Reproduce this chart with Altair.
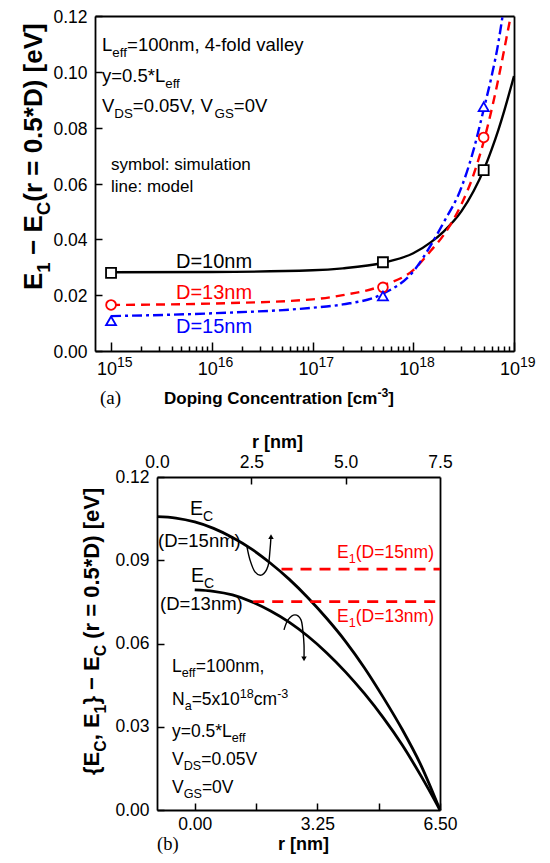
import altair as alt
import pandas as pd

# ---------------- overall geometry ----------------
PAD = 6
ORIG = 8 + PAD                 # page position of the drawing origin
W, H = 550 - 16 - 2 * PAD, 863 - 16 - 2 * PAD
SANS = "Liberation Sans"
SERIF = "Liberation Serif"
RED = "#ff0000"
BLUE = "#0000ff"

# ---------------- panel (a): data ----------------
A10_X = [1e15, 1e16, 1e17, 2e17, 5e17, 1e18, 1.5e18, 2e18, 3e18, 4e18, 5e18, 6e18, 7e18, 8e18, 1e19]
A10_Y = [0.0282, 0.0283, 0.0289, 0.0296, 0.0316, 0.0350, 0.0390, 0.0428, 0.0500, 0.0575, 0.0648, 0.0722, 0.0792, 0.0860, 0.0985]
A13_X = [1e15, 1e16, 1e17, 2e17, 5e17, 1e18, 1.5e18, 2e18, 3e18, 4e18, 5e18, 6e18, 7e18, 8e18, 9e18, 9.3e18]
A13_Y = [0.0165, 0.0170, 0.0185, 0.0200, 0.0235, 0.0290, 0.0360, 0.0415, 0.0525, 0.0635, 0.0750, 0.0865, 0.0975, 0.1080, 0.1175, 0.1200]
A15_X = [1e15, 1e16, 1e17, 2e17, 5e17, 1e18, 1.5e18, 2e18, 3e18, 4e18, 5e18, 6e18, 7e18, 7.7e18]
A15_Y = [0.0125, 0.0135, 0.0155, 0.0167, 0.0205, 0.0285, 0.0380, 0.0460, 0.0585, 0.0725, 0.0865, 0.0985, 0.1105, 0.1200]

SIM_X = [1e15, 5e17, 5e18]
SIM10 = [0.0280, 0.0318, 0.0648]
SIM13 = [0.0165, 0.0228, 0.0765]
SIM15 = [0.0108, 0.0197, 0.0875]

A_MAJOR = [1e15, 1e16, 1e17, 1e18, 1e19]
A_EXP = ["15", "16", "17", "18", "19"]
A_MINOR = [m * 10.0 ** e for e in range(15, 19) for m in range(2, 10)]
A_YTICKS = [0.0, 0.02, 0.04, 0.06, 0.08, 0.10, 0.12]

# ---------------- panel (b): data ----------------
B15_R = [-1.0, -0.5, 0.0, 0.5, 1.0, 1.5, 2.0, 2.5, 3.0, 3.5, 4.0, 4.5, 5.0, 5.5, 6.0, 6.5]
B15_E = [0.1057, 0.1052, 0.1038, 0.1015, 0.0982, 0.0941, 0.0890, 0.0832, 0.0765, 0.0690, 0.0607, 0.0512, 0.0405, 0.0290, 0.0160, 0.0]
B13_R = [0.0, 0.5, 1.0, 1.5, 2.0, 2.5, 3.0, 3.5, 4.0, 4.5, 5.0, 5.5, 6.0, 6.5]
B13_E = [0.0793, 0.0788, 0.0775, 0.0751, 0.0718, 0.0677, 0.0626, 0.0566, 0.0497, 0.0419, 0.0332, 0.0234, 0.0122, 0.0]
E1_15_R = [2.3, 6.5]
E1_15_E = [0.0868, 0.0868]
E1_13_R = [1.55, 6.5]
E1_13_E = [0.0751, 0.0751]

ARR1_R = [1.385, 1.465, 1.597, 1.783, 1.942, 1.995, 2.021]
ARR1_E = [0.0948, 0.0901, 0.0858, 0.0847, 0.0879, 0.0937, 0.0985]
ARR2_R = [2.366, 2.472, 2.657, 2.816, 2.869, 2.896, 2.896]
ARR2_E = [0.0649, 0.0685, 0.0703, 0.0685, 0.0641, 0.0595, 0.0545]

B_XTICKS = [0.0, 1.625, 3.25, 4.875, 6.5]
B_XLABELS = [0.0, 3.25, 6.5]
B_TOPTICKS = [0.0, 2.5, 5.0, 7.5]
B_YTICKS = [0.0, 0.03, 0.06, 0.09, 0.12]


def P(v):
    """page pixel -> drawing pixel"""
    return v - ORIG


# ---------------- scales (pixel ranges inside the drawing) ----------------
XA_DOM, XA_RNG = [6.93e14, 1e19], [P(95), P(514)]
YA_DOM, YA_RNG = [0, 0.12], [P(351), P(16)]
XB_DOM, XB_RNG = [-1.0, 6.5], [P(157), P(440)]
XT_DOM = [0.0, 7.5]
YB_DOM, YB_RNG = [0, 0.12], [P(810), P(477)]


def s_xa():
    return alt.Scale(type="log", domain=XA_DOM, range=XA_RNG, nice=False)


def s_ya():
    return alt.Scale(domain=YA_DOM, range=YA_RNG, nice=False, zero=False)


def s_xb():
    return alt.Scale(domain=XB_DOM, range=XB_RNG, nice=False, zero=False)


def s_xt():
    return alt.Scale(domain=XT_DOM, range=XB_RNG, nice=False, zero=False)


def s_yb():
    return alt.Scale(domain=YB_DOM, range=YB_RNG, nice=False, zero=False)


AX = dict(grid=False, title=None, domainColor="black", tickColor="black",
          labelColor="black", labelFont=SANS, labelFontSize=17.5,
          domainWidth=1.8, tickWidth=1.5, labelFlush=False, labelOverlap=False)


def xaxis(y_page, orient, **kw):
    d = dict(AX)
    d.update(kw)
    y = P(y_page)
    off = (y - H) if orient == "bottom" else -y
    return alt.Axis(orient=orient, offset=off, **d)


def yaxis(x_page, orient, **kw):
    d = dict(AX)
    d.update(kw)
    x = P(x_page)
    off = -x if orient == "left" else (x - W)
    return alt.Axis(orient=orient, offset=off, **d)


def df(xs, ys):
    return pd.DataFrame({"x": xs, "y": ys, "i": list(range(len(xs)))})


layers = []

# ---------------- panel (a) layers ----------------
layers.append(alt.Chart(df(A10_X, A10_Y)).mark_line(color="black", strokeWidth=2.4, interpolate="monotone").encode(
    x=alt.X("x:Q", scale=s_xa(), axis=xaxis(351, "top", values=A_MAJOR, tickSize=9, labels=False)),
    y=alt.Y("y:Q", scale=s_ya(), axis=yaxis(95, "right", values=A_YTICKS, tickSize=7, labels=False))))
layers.append(alt.Chart(df(A13_X, A13_Y)).mark_line(color=RED, strokeWidth=2.4, strokeDash=[9, 6], interpolate="monotone").encode(
    x=alt.X("x:Q", scale=s_xa(), axis=None), y=alt.Y("y:Q", scale=s_ya(), axis=None)))
layers.append(alt.Chart(df(A15_X, A15_Y)).mark_line(color=BLUE, strokeWidth=2.4, strokeDash=[10, 4, 3, 4], interpolate="monotone").encode(
    x=alt.X("x:Q", scale=s_xa(), axis=None), y=alt.Y("y:Q", scale=s_ya(), axis=None)))

layers.append(alt.Chart(df(SIM_X, SIM10)).mark_point(shape="square", size=100, stroke="black", fill="white", fillOpacity=1, strokeWidth=1.8, opacity=1).encode(
    x=alt.X("x:Q", scale=s_xa(), axis=xaxis(351, "top", values=A_MINOR, tickSize=5, labels=False, domain=False)),
    y=alt.Y("y:Q", scale=s_ya(), axis=yaxis(95, "left", values=A_YTICKS, format=".2f", ticks=False, tickSize=0, domain=False, labelPadding=8, labelOffset=1.5))))
layers.append(alt.Chart(df(SIM_X, SIM13)).mark_point(shape="circle", size=95, stroke=RED, fill="white", fillOpacity=1, strokeWidth=1.8, opacity=1).encode(
    x=alt.X("x:Q", scale=s_xa(), axis=None), y=alt.Y("y:Q", scale=s_ya(), axis=None)))
layers.append(alt.Chart(df(SIM_X, SIM15)).mark_point(shape="triangle-up", size=100, stroke=BLUE, fill="white", fillOpacity=1, strokeWidth=1.8, opacity=1).encode(
    x=alt.X("x:Q", scale=s_xa(), axis=None), y=alt.Y("y:Q", scale=s_ya(), axis=None)))
# frame: top and right edges of panel (a)
layers.append(alt.Chart(df(SIM_X, SIM10)).mark_point(opacity=0).encode(
    x=alt.X("x:Q", scale=s_xa(), axis=xaxis(16, "bottom", ticks=False, tickSize=0, labels=False)),
    y=alt.Y("y:Q", scale=s_ya(), axis=yaxis(514, "left", ticks=False, tickSize=0, labels=False))))
# decade tick labels 10^n
tl = pd.DataFrame({"x": A_MAJOR, "b": ["10"] * len(A_MAJOR), "e": A_EXP})
layers.append(alt.Chart(tl).mark_text(align="right", baseline="alphabetic", dx=6, font=SANS, fontSize=18, color="black").encode(
    x=alt.X("x:Q", scale=s_xa(), axis=None), y=alt.value(P(375)), text="b:N"))
layers.append(alt.Chart(tl).mark_text(align="left", baseline="alphabetic", dx=6, font=SANS, fontSize=14, color="black").encode(
    x=alt.X("x:Q", scale=s_xa(), axis=None), y=alt.value(P(367)), text="e:N"))

# ---------------- panel (b) layers ----------------
layers.append(alt.Chart(df(B15_R, B15_E)).mark_line(color="black", strokeWidth=2.8, interpolate="monotone").encode(
    x=alt.X("x:Q", scale=s_xb(), axis=xaxis(810, "top", values=B_XTICKS, tickSize=7, labels=False)),
    y=alt.Y("y:Q", scale=s_yb(), axis=yaxis(157, "right", values=B_YTICKS, tickSize=7, labels=False))))
layers.append(alt.Chart(df(B13_R, B13_E)).mark_line(color="black", strokeWidth=2.8, interpolate="monotone").encode(
    x=alt.X("x:Q", scale=s_xb(), axis=xaxis(810, "bottom", values=B_XLABELS, format=".2f", ticks=False, tickSize=0, domain=False, labelPadding=5)),
    y=alt.Y("y:Q", scale=s_yb(), axis=yaxis(157, "left", values=B_YTICKS, format=".2f", ticks=False, tickSize=0, domain=False, labelPadding=8))))
layers.append(alt.Chart(df(E1_15_R, E1_15_E)).mark_line(color=RED, strokeWidth=2.6, strokeDash=[11, 8]).encode(
    x=alt.X("x:Q", scale=s_xb(), axis=None), y=alt.Y("y:Q", scale=s_yb(), axis=None)))
layers.append(alt.Chart(df(E1_13_R, E1_13_E)).mark_line(color=RED, strokeWidth=2.6, strokeDash=[11, 8]).encode(
    x=alt.X("x:Q", scale=s_xb(), axis=None), y=alt.Y("y:Q", scale=s_yb(), axis=None)))
for rr, ee, shp in ((ARR1_R, ARR1_E, "triangle-up"), (ARR2_R, ARR2_E, "triangle-down")):
    layers.append(alt.Chart(df(rr, ee)).mark_line(color="black", strokeWidth=1.4, interpolate="cardinal").encode(
        x=alt.X("x:Q", scale=s_xb(), axis=None), y=alt.Y("y:Q", scale=s_yb(), axis=None), order="i:Q"))
    layers.append(alt.Chart(df(rr[-1:], ee[-1:])).mark_point(shape=shp, size=30, filled=True, color="black", opacity=1).encode(
        x=alt.X("x:Q", scale=s_xb(), axis=None), y=alt.Y("y:Q", scale=s_yb(), axis=None)))
# top axis r (0..7.5): inward ticks + right edge
topdf = pd.DataFrame({"x": B_TOPTICKS, "y": [0.0] * len(B_TOPTICKS)})
layers.append(alt.Chart(topdf).mark_point(opacity=0).encode(
    x=alt.X("x:Q", scale=s_xt(), axis=xaxis(477, "bottom", values=[2.5, 5.0], tickSize=7, labels=False)),
    y=alt.Y("y:Q", scale=s_yb(), axis=yaxis(440, "left", ticks=False, tickSize=0, labels=False))))
layers.append(alt.Chart(topdf).mark_point(opacity=0).encode(
    x=alt.X("x:Q", scale=s_xt(), axis=xaxis(477, "top", values=B_TOPTICKS, format=".1f", ticks=False, tickSize=0, domain=False, labelPadding=6)),
    y=alt.value(P(600))))

# ---------------- rich text annotations ----------------
REG = {' ': 278, '!': 278, '(': 333, ')': 333, '*': 389, '+': 584, ',': 278, '-': 333, '.': 278, '/': 278,
       ':': 278, '=': 584, '[': 278, ']': 278, '{': 334, '}': 334, '−': 584,
       'A': 667, 'B': 667, 'C': 722, 'D': 722, 'E': 667, 'F': 611, 'G': 778, 'H': 722, 'I': 278, 'L': 556,
       'N': 722, 'S': 667, 'V': 667, 'a': 556, 'b': 556, 'c': 500, 'd': 556, 'e': 556, 'f': 278, 'g': 556,
       'h': 556, 'i': 222, 'k': 500, 'l': 222, 'm': 833, 'n': 556, 'o': 556, 'p': 556, 'r': 333, 's': 500,
       't': 278, 'u': 556, 'v': 500, 'x': 500, 'y': 500}
BOLD = {' ': 278, '(': 333, ')': 333, '*': 389, ',': 278, '-': 333, '.': 278, '=': 584, '[': 333, ']': 333,
        '{': 389, '}': 389, '−': 584, 'C': 722, 'D': 722, 'E': 667, 'V': 667, 'a': 556, 'c': 556, 'e': 556,
        'g': 611, 'i': 278, 'm': 889, 'n': 611, 'o': 611, 'p': 611, 'r': 389, 't': 333}
SUBF = 0.72


def tw(s, bold):
    tb = BOLD if bold else REG
    return sum(556 if ch.isdigit() else tb.get(ch, 556) for ch in s) / 1000.0


def rich(px, py, parts, size, bold=False, angle=0, anchor="left"):
    def fsz(k):
        return size if k == "n" else size * SUBF
    total = sum(tw(t, bold) * fsz(k) for t, k in parts)
    pos = 0.0 if anchor == "left" else -total
    rows = []
    for t, k in parts:
        fs = fsz(k)
        lead = len(t) - len(t.lstrip(" "))
        pos += lead * 0.278 * fs
        body = t.lstrip(" ")
        sh = 0.0 if k == "n" else (size * 0.30 if k == "sub" else -size * 0.40)
        if angle == 0:
            rows.append(dict(px=P(px) + pos, py=P(py) + sh, t=body, fs=fs))
        else:
            rows.append(dict(px=P(px) + sh, py=P(py) - pos, t=body, fs=fs))
        pos += tw(body, bold) * fs
    return rows


N, SB, SP = "n", "sub", "sup"
TEXTS = {
    ("reg", "black", 0): [
        (102, 51, [("L", N), ("eff", SB), ("=100nm, 4-fold valley", N)], 18.5, "left"),
        (102, 82, [("y=0.5*L", N), ("eff", SB)], 18.5, "left"),
        (102, 112, [("V", N), ("DS", SB), ("=0.05V, V", N), ("GS", SB), ("=0V", N)], 18.5, "left"),
        (111, 170, [("symbol: simulation", N)], 17, "left"),
        (111, 192, [("line: model", N)], 17, "left"),
        (176, 268, [("D=10nm", N)], 20, "left"),
        (190, 515, [("E", N), ("C", SB)], 19.5, "left"),
        (158, 547, [("(D=15nm)", N)], 18.5, "left"),
        (191, 582, [("E", N), ("C", SB)], 19.5, "left"),
        (160, 610, [("(D=13nm)", N)], 18.5, "left"),
        (172, 672, [("L", N), ("eff", SB), ("=100nm,", N)], 17.5, "left"),
        (172, 705, [("N", N), ("a", SB), ("=5x10", N), ("18", SP), ("cm", N), ("-3", SP)], 17.5, "left"),
        (172, 737, [("y=0.5*L", N), ("eff", SB)], 17.5, "left"),
        (172, 765, [("V", N), ("DS", SB), ("=0.05V", N)], 17.5, "left"),
        (172, 793, [("V", N), ("GS", SB), ("=0V", N)], 17.5, "left"),
    ],
    ("reg", RED, 0): [
        (176, 299, [("D=13nm", N)], 20, "left"),
        (434, 558, [("E", N), ("1", SB), ("(D=15nm)", N)], 17.5, "right"),
        (434, 622, [("E", N), ("1", SB), ("(D=13nm)", N)], 17.5, "right"),
    ],
    ("reg", BLUE, 0): [
        (176, 333, [("D=15nm", N)], 20, "left"),
    ],
    ("bold", "black", 0): [
        (164, 404, [("Doping Concentration [cm", N), ("-3", SP), ("]", N)], 17, "left"),
        (252, 448, [("r [nm]", N)], 18, "left"),
        (278, 850, [("r [nm]", N)], 18, "left"),
    ],
    ("bold", "black", 270): [
        (42, 290, [("E", N), ("1", SB), (" − E", N), ("C", SB), ("(r = 0.5*D) [eV]", N)], 26, "left"),
        (99, 775, [("{E", N), ("C", SB), (", E", N), ("1", SB), ("} − E", N), ("C", SB), (" (r = 0.5*D) [eV]", N)], 22, "left"),
    ],
    ("serif", "black", 0): [
        (100, 404, [("(a)", N)], 19, "left"),
        (157, 850, [("(b)", N)], 18.5, "left"),
    ],
}

for (style, color, angle), specs in TEXTS.items():
    rows = []
    for (px, py, parts, size, anchor) in specs:
        rows += rich(px, py, parts, size, bold=(style == "bold"), angle=angle, anchor=anchor)
    font = SERIF if style == "serif" else SANS
    weight = "bold" if style == "bold" else "normal"
    layers.append(alt.Chart(pd.DataFrame(rows)).mark_text(
        align="left", baseline="alphabetic", font=font, fontWeight=weight, color=color, angle=angle).encode(
        x=alt.X("px:Q", scale=None, axis=None),
        y=alt.Y("py:Q", scale=None, axis=None),
        text="t:N",
        size=alt.Size("fs:Q", scale=None, legend=None)))

chart = alt.layer(*layers).resolve_scale(x="independent", y="independent").properties(
    width=W, height=H, autosize=alt.AutoSizeParams(type="none"), padding=PAD, background="white"
).configure_view(stroke=None)

chart.save("out.html", embed_options={"renderer": "svg", "actions": False})
